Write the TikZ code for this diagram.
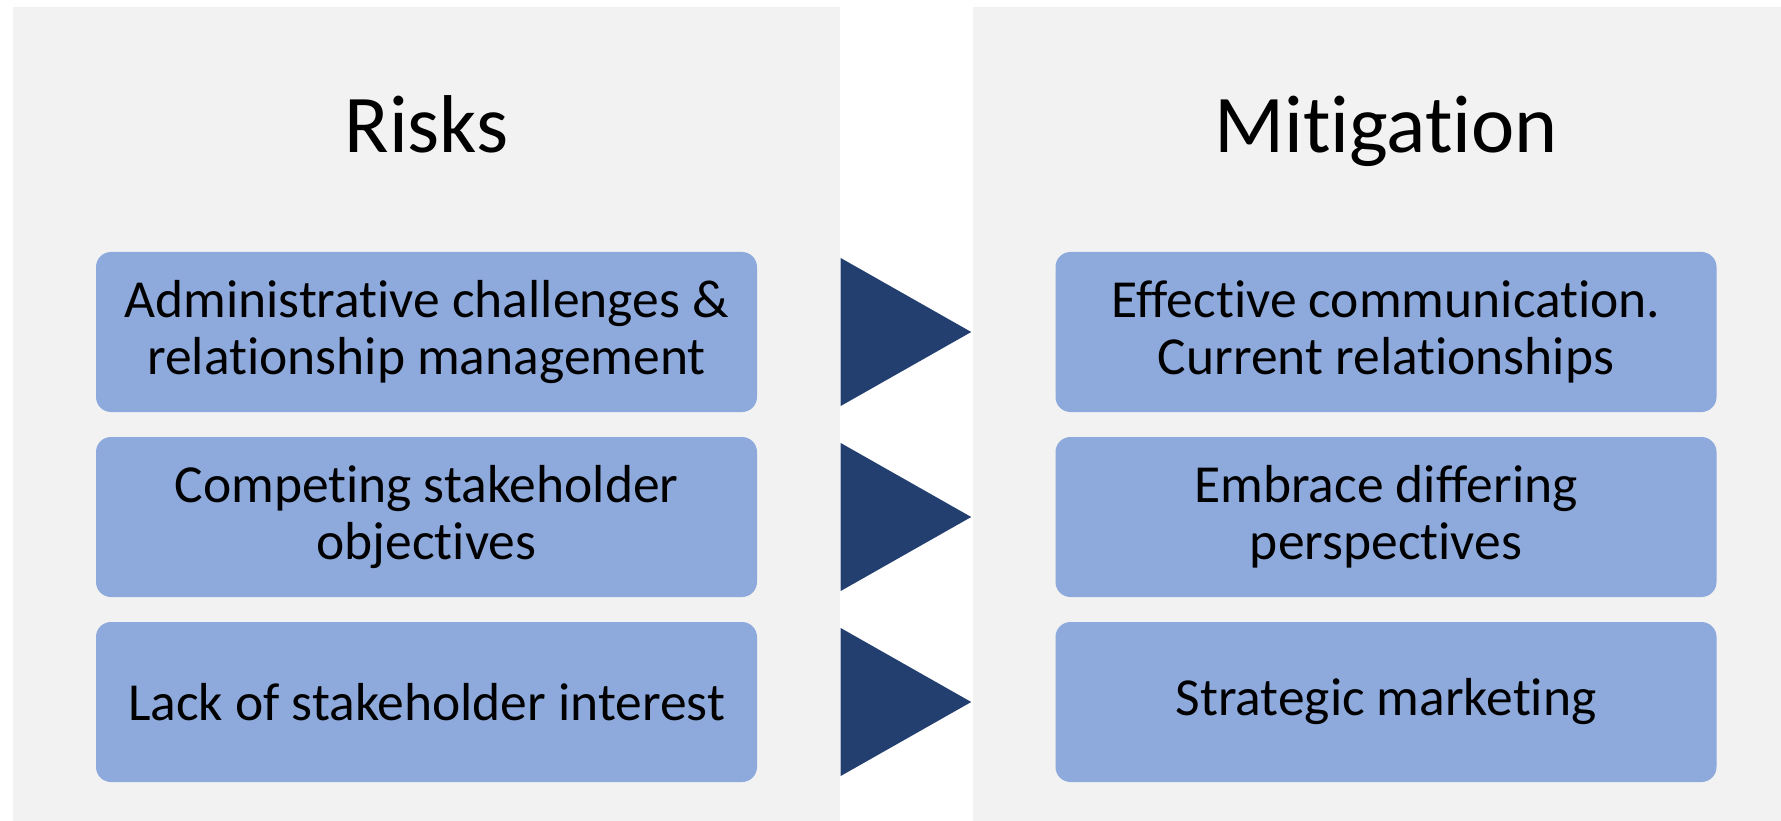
\documentclass[tikz,border=0pt]{standalone}
\usepackage{fontspec}
\setmainfont{Carlito}[Ligatures=NoCommon]
\definecolor{panelgray}{HTML}{F2F2F2}
\definecolor{itemblue}{HTML}{8EA9DB}
\definecolor{navy}{HTML}{223F6F}
\begin{document}
\begin{tikzpicture}[x=1pt,y=-1pt,
  panel/.style={fill=panelgray,draw=none},
  item/.style={fill=itemblue,draw=none,rounded corners=15pt,
    minimum width=661pt,minimum height=160pt,inner sep=0pt,
    align=center,font=\fontsize{53.5}{57}\selectfont,text=black},
  title/.style={anchor=base,font=\fontsize{82}{90}\selectfont,text=black},
  tri/.style={fill=navy,draw=none}]
\useasboundingbox (0,0) rectangle (1781,821);
\fill[white] (0,0) rectangle (1781,821);
% panels
\path[panel] (13,7) rectangle (840,821);
\path[panel] (973,7) rectangle (1781,821);
% titles
\node[title] (tl) at (426.5,153) {Risks};
\node[title] (tr) at (1386,153) {Mitigation};
% left items
\node[item] (l1) at (426.5,332) {Administrative challenges \&\\relationship management};
\node[item] (l2) at (426.5,517) {Competing stakeholder\\objectives};
\node[item] (l3) at (426.5,702) {Lack of stakeholder interest};
% right items
\node[item] (r1) at (1386,332) {Effective communication.\\Current relationships};
\node[item] (r2) at (1386,517) {Embrace differing\\perspectives};
\node[item] (r3) at (1386,702) {Strategic marketing};
% arrows
\foreach \n in {l1,l2,l3}{
  \fill[tri] ([xshift=83.5pt,yshift=74pt]\n.east) -- ([xshift=214pt]\n.east)
    -- ([xshift=83.5pt,yshift=-74pt]\n.east) -- cycle;
}
\end{tikzpicture}
\end{document}
